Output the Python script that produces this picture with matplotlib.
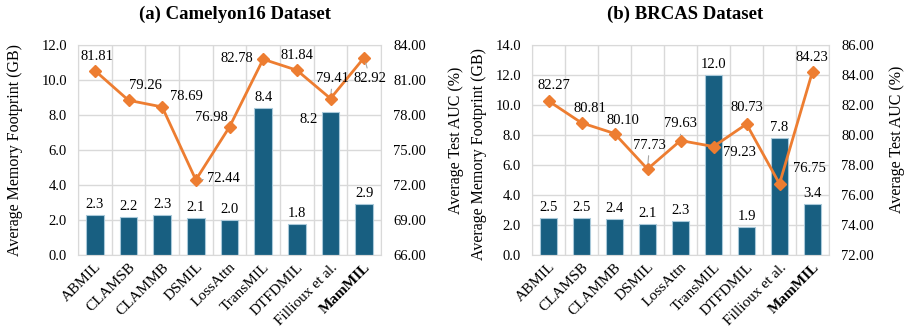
import matplotlib
matplotlib.use("Agg")
import matplotlib.pyplot as plt
import numpy as np

plt.rcParams['font.family'] = ['Liberation Serif', 'DejaVu Serif']

methods = ["ABMIL", "CLAMSB", "CLAMMB", "DSMIL", "LossAttn", "TransMIL", "DTFDMIL", "Fillioux et al.", "MamMIL"]

cam_mem = [2.3, 2.2, 2.3, 2.1, 2.0, 8.4, 1.8, 8.2, 2.9]
cam_auc = [81.81, 79.26, 78.69, 72.44, 76.98, 82.78, 81.84, 79.41, 82.92]
brc_mem = [2.5, 2.5, 2.4, 2.1, 2.3, 12.0, 1.9, 7.8, 3.4]
brc_auc = [82.27, 80.81, 80.10, 77.73, 79.63, 79.23, 80.73, 76.75, 84.23]

cam_title = "(a) Camelyon16 Dataset"
brc_title = "(b) BRCAS Dataset"

# label offsets in pixels (dx, dy), and whether a leader line is drawn
cam_auc_off = [(2, 14, 0), (17, 15, 0), (24, 10, 0), (28, 1, 1), (-18, 9, 0), (-26, 1, 0), (0, 15, 0), (2, 20, 1), (6, -21, 1)]
brc_auc_off = [(5, 15, 0), (8, 14, 0), (8, 13, 0), (2, 24, 1), (0, 17, 1), (26, -6, 0), (0, 17, 0), (30, 15, 0), (-1, 14, 0)]
cam_bar_off = [(0, 4)] * 9
cam_bar_off[7] = (-22, -14)
brc_bar_off = [(0, 4)] * 9

BAR = '#185f81'
LINE = '#ed7d31'
GRID = '#d9d9d9'

W, H = 906, 326
fig = plt.figure(figsize=(W / 100, H / 100), dpi=100)


def panel(rect, mem, auc, ylim1, yt1, ylim2, yt2, title, auc_off, bar_off, lab1, lab2):
    ax = fig.add_axes(rect)
    x = np.arange(len(methods))
    ax.bar(x, mem, width=0.52, color=BAR, edgecolor='#a9c9da', linewidth=0.8, zorder=2)
    ax.set_xlim(-0.5, len(methods) - 0.5)
    ax.set_ylim(*ylim1)
    ax.set_yticks(yt1)
    ax.set_yticklabels([f"{v:.1f}" for v in yt1])
    ax.set_xticks(x)
    ax.set_xticklabels(methods, rotation=45, ha='right', rotation_mode='anchor', fontsize=11)
    ax.get_xticklabels()[-1].set_fontweight('bold')
    ax.set_xticks(np.arange(len(methods) + 1) - 0.5, minor=True)
    ax.grid(True, axis='y', color=GRID, lw=1, zorder=0)
    ax.grid(True, axis='x', which='minor', color=GRID, lw=1, zorder=0)
    ax.tick_params(axis='both', which='both', length=0)
    ax.tick_params(axis='x', pad=4)
    ax.tick_params(axis='y', pad=8, labelsize=10.5)
    for s in ax.spines.values():
        s.set_color(GRID)
    ax.set_axisbelow(True)
    ax.set_ylabel("Average Memory Footprint (GB)", fontsize=11.5)
    ax.yaxis.set_label_coords(lab1[0], lab1[1])
    for i, v in enumerate(mem):
        dx, dy = bar_off[i]
        ax.annotate(f"{v:.1f}", (x[i], v), xytext=(dx, dy), textcoords='offset pixels',
                    ha='center', va='bottom', fontsize=10.5, zorder=5)
    ax2 = ax.twinx()
    ax2.plot(x, auc, color=LINE, lw=2, marker='D', markersize=6.5, zorder=4)
    ax2.set_ylim(*ylim2)
    ax2.set_yticks(yt2)
    ax2.set_yticklabels([f"{v:.2f}" for v in yt2])
    ax2.tick_params(axis='y', length=0, labelsize=10.5, pad=9)
    for s in ax2.spines.values():
        s.set_visible(False)
    ax2.set_ylabel("Average Test AUC (%)", fontsize=11.5)
    ax2.yaxis.set_label_coords(lab2[0], lab2[1])
    for i, v in enumerate(auc):
        dx, dy, lead = auc_off[i]
        kw = {}
        if lead:
            kw['arrowprops'] = dict(arrowstyle='-', color='#a6a6a6', lw=0.8, shrinkA=1, shrinkB=4)
        ax2.annotate(f"{v:.2f}", (x[i], v), xytext=(dx, dy), textcoords='offset pixels',
                     ha='center', va='center', fontsize=10.5, zorder=6, **kw)
    ax.set_title(title, fontsize=13.5, fontweight='bold', x=0.517, pad=19)
    return ax, ax2


def frac(x0, y0, x1, y1):
    return [x0 / W, 1 - y1 / H, (x1 - x0) / W, (y1 - y0) / H]


panel(frac(78, 45, 381, 255), cam_mem, cam_auc, (0, 12), np.arange(0, 12.1, 2),
      (66, 84), np.arange(66, 84.1, 3), cam_title, cam_auc_off, cam_bar_off,
      (-0.18, 0.5), (1.221, 0.548))
panel(frac(532, 45, 829, 255), brc_mem, brc_auc, (0, 14), np.arange(0, 14.1, 2),
      (72, 86), np.arange(72, 86.1, 2), brc_title, brc_auc_off, brc_bar_off,
      (-0.152, 0.48), (1.202, 0.55))

fig.savefig("out.png", dpi=100)
